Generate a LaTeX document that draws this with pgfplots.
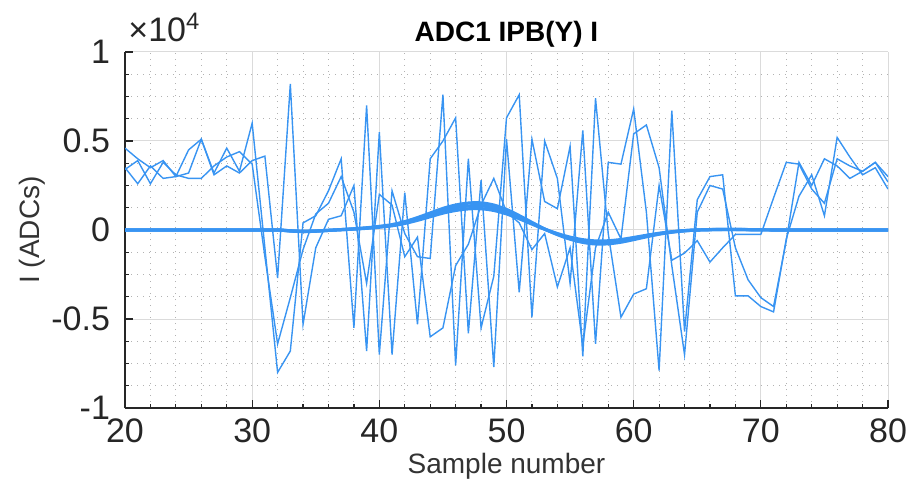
\documentclass[border=0pt]{standalone}
\usepackage{pgfplots}
\pgfplotsset{compat=1.18}
\usepackage{pgfplotstable}
\usepackage{fontspec}
\setmainfont{Liberation Sans}
\definecolor{mblue}{rgb}{0.22,0.58,0.95}

\pgfplotstableread{
s a b c
20 4600 3500 3400
21 4000 2600 3900
22 3500 3600 2600
23 3900 2900 3800
24 3000 3000 3100
25 3200 4500 2900
26 5100 5100 2900
27 3200 3100 3600
28 4600 3600 4100
29 3300 3200 4400
30 6000 3900 3700
31 -1000 4150 -1500
32 -8000 -2700 -6400
33 -6800 8200 -3800
34 400 -5300 -1100
35 800 -1000 900
36 2200 600 1500
37 4000 800 3000
38 -5500 2500 1000
39 7000 -6800 -3000
40 -7000 5500 2000
41 2200 -7000 1400
42 -200 2100 -1500
43 -1500 -5300 -400
44 -1600 4000 -6000
45 7600 5000 -5500
46 -7600 6300 -2000
47 4000 -5800 -800
48 -5500 2800 1400
49 -2600 -7700 2900
50 6300 5100 1000
51 7600 -3500 400
52 -4900 5100 -1100
53 5000 1600 -200
54 2900 1200 -3200
55 -3000 4700 -1000
56 5600 -7100 -6500
57 -6400 7400 -1000
58 3800 -200 1000
59 3700 -4900 -500
60 6800 -3600 5400
61 1000 -3300 5900
62 -7900 2500 3500
63 6700 -1700 -2000
64 -5700 -1300 -7000
65 1700 -600 1000
66 3000 -1800 2500
67 3100 -1000 2300
68 -3700 -250 -1000
69 -3700 -250 -2800
70 -4300 -250 -3800
71 -4600 1800 -4300
72 -500 3800 -600
73 1900 3700 3800
74 3100 2300 2500
75 800 1500 4000
76 5200 4000 3600
77 4100 3600 2900
78 3100 3300 3300
79 3500 3800 3800
80 2300 3000 2700
}\thin

\pgfplotstableread{
s w1 w2 w3
20 0 0 0
22 0 0 0
24 0 0 0
26 0 0 0
28 0 0 0
30 0 0 0
32 0 0 0
33 -44 -50 -56
34 -70 -80 -90
35 -53 -60 -67
36 -18 -20 -22
37 18 20 22
38 53 60 67
39 97 110 123
40 158 180 202
41 238 270 302
42 370 420 470
43 546 620 694
44 748 850 952
45 950 1080 1210
46 1100 1250 1400
47 1188 1350 1512
48 1197 1360 1523
49 1100 1250 1400
50 906 1030 1154
51 634 720 806
52 334 380 426
53 44 50 56
54 -202 -230 -258
55 -405 -460 -515
56 -546 -620 -694
57 -616 -700 -784
58 -607 -690 -773
59 -537 -610 -683
60 -422 -480 -538
61 -299 -340 -381
62 -185 -210 -235
63 -97 -110 -123
64 -35 -40 -45
65 0 0 0
66 18 20 22
67 26 30 34
68 26 30 34
69 18 20 22
70 9 10 11
72 0 0 0
74 0 0 0
76 0 0 0
78 0 0 0
80 0 0 0
}\thick

\begin{document}
\begin{tikzpicture}
\begin{axis}[
  width=381.5pt, height=178pt, scale only axis,
  xmin=20, xmax=80, ymin=-10000, ymax=10000,
  scaled y ticks=false, scaled x ticks=false,
  xtick={20,30,...,80},
  ytick={-10000,-5000,0,5000,10000},
  yticklabels={-1,-0.5,0,0.5,1},
  minor x tick num=4, minor y tick num=3,
  grid=both,
  major grid style={line width=0.5pt, color=black!14},
  minor grid style={line width=0.5pt, color=black!30, dash pattern=on 0.6pt off 2.4pt},
  axis lines*=left,
  axis line style={black!85, line width=0.8pt},
  tick align=inside,
  major tick length=4pt, minor tick length=2pt,
  tick style={black!85, line width=0.6pt},
  /pgf/number format/assume math mode=true,
  ticklabel style={font=\fontsize{17}{19}\selectfont, text=black!85},
  yticklabel style={xshift=-4pt},
  xticklabel style={yshift=-2pt},
  title={ADC1 IPB(Y) I},
  title style={font=\fontsize{14}{16}\selectfont\bfseries, at={(axis description cs:0.5,1)}, anchor=base, yshift=-1pt},
  xlabel={Sample number},
  xlabel style={font=\fontsize{14}{16}\selectfont, text=black!80, at={(axis description cs:0.5,-0.185)}, anchor=base},
  ylabel={I (ADCs)},
  ylabel style={font=\fontsize{14}{16}\selectfont, text=black!80, at={(axis description cs:-0.122,0.5)}, anchor=center},
  clip=true,
]
\addplot[mblue, line width=0.7pt] table[x=s, y=a] {\thin};
\addplot[mblue, line width=0.7pt] table[x=s, y=b] {\thin};
\addplot[mblue, line width=0.7pt] table[x=s, y=c] {\thin};
\addplot[mblue, line width=1.6pt, smooth] table[x=s, y=w1] {\thick};
\addplot[mblue, line width=1.6pt, smooth] table[x=s, y=w2] {\thick};
\addplot[mblue, line width=1.6pt, smooth] table[x=s, y=w3] {\thick};
\end{axis}
\node[anchor=base west, font=\fontsize{17}{19}\selectfont, text=black!85, inner sep=0pt] at ([xshift=1.5pt, yshift=5pt]current axis.north west) {×10\textsuperscript{4}};
\pgfresetboundingbox
\path[use as bounding box] ([xshift=-62.5pt, yshift=-39pt]current axis.south west) rectangle ([xshift=11pt, yshift=26pt]current axis.north east);
\end{tikzpicture}
\end{document}
